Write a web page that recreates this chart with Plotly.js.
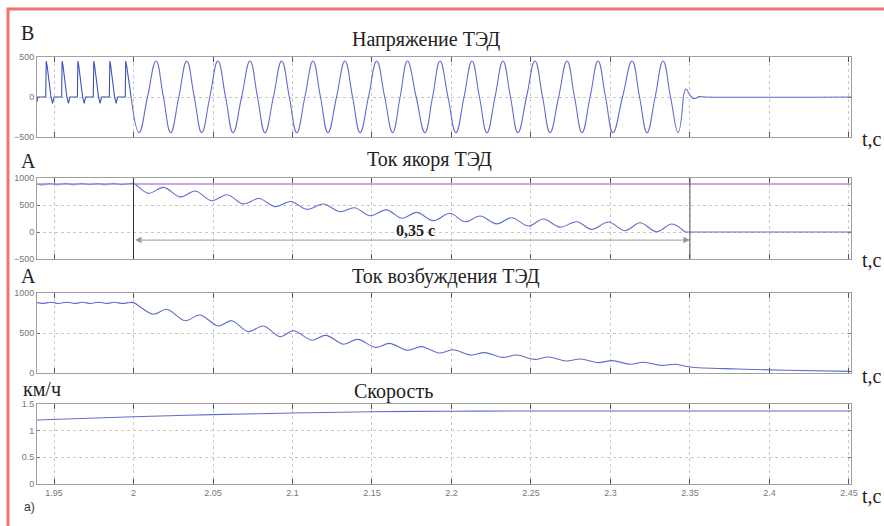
<!DOCTYPE html>
<html>
<head>
<meta charset="utf-8">
<script src="https://cdn.plot.ly/plotly-3.0.1.min.js"></script>
<style>html,body{margin:0;padding:0;background:#fff;}#chart{width:884px;height:526px;}</style>
</head>
<body>
<div id="chart"></div>
<script>
// ---------- DATA ----------
// Panel 1: voltage (В) — rectifier pulses before t = 2.0 s
const voltPulseT = [1.9393,1.9398,1.9405,1.9448,1.9451,1.9456,1.9481,1.9491,1.9500,1.9548,1.9551,1.9556,1.9581,1.9591,1.9600,
  1.9647,1.9650,1.9655,1.9680,1.9690,1.9699,1.9747,1.9750,1.9755,1.9780,1.9790,1.9799,1.9848,1.9851,1.9856,1.9881,1.9891,1.9900,
  1.9948,1.9951,1.9956,1.9985];
const voltPulseV = [-60,0,0,0,450,400,0,-80,0,0,450,400,0,-80,0,
  0,450,400,0,-80,0,0,450,400,0,-80,0,0,450,400,0,-80,0,
  0,450,400,0];
// Panel 1: voltage — inverter sine after t = 2.0 s (extrema and zero crossings)
const voltSineT = [1.9985,2.0035,2.0088,2.0142,2.0188,2.0234,2.0285,2.0335,2.0382,2.0429,2.0480,2.0531,2.0579,2.0626,2.0680,2.0733,
  2.0780,2.0827,2.0880,2.0932,2.0980,2.1027,2.1078,2.1129,2.1176,2.1223,2.1277,2.1330,2.1378,2.1425,2.1478,2.1530,
  2.1580,2.1630,2.1677,2.1723,2.1778,2.1833,2.1881,2.1928,2.1978,2.2028,2.2079,2.2129,2.2176,2.2223,2.2274,2.2324,
  2.2371,2.2418,2.2472,2.2525,2.2573,2.2620,2.2674,2.2727,2.2774,2.2821,2.2872,2.2922,2.2969,2.3016,2.3076,2.3136,
  2.3183,2.3230,2.3281,2.3331,2.3378,2.3425,2.3458];
const voltSineV = [0,-445,0,450,0,-445,0,450,0,-445,0,450,0,-445,0,450,
  0,-445,0,450,0,-445,0,450,0,-445,0,450,0,-445,0,450,
  0,-445,0,450,0,-445,0,450,0,-445,0,450,0,-445,0,450,
  0,-445,0,450,0,-445,0,450,0,-445,0,450,0,-445,0,450,
  0,-445,0,450,0,-445,0];
const voltTailT = [2.3458,2.3475,2.3500,2.3522,2.3560,2.3600,2.4513];
const voltTailV = [0,100,25,-20,5,0,0];

// Panel 2: armature current (А)
const armT = [1.9393,1.9425,1.9475,1.9525,1.9575,1.9625,1.9675,1.9725,1.9775,1.9825,1.9875,1.9925,1.9975,2.0000,
  2.0093,2.0190,2.0293,2.0390,2.0490,2.0590,2.0690,2.0790,2.0890,2.0990,2.1090,2.1194,2.1300,2.1390,2.1490,2.1590,
  2.1690,2.1781,2.1886,2.1991,2.2085,2.2180,2.2285,2.2379,2.2484,2.2578,2.2683,2.2788,2.2882,2.2987,2.3092,2.3186,
  2.3291,2.3386,2.3469];
const armV = [885,872,898,876,900,874,901,876,899,875,901,877,898,900,
  716,827,650,760,580,690,520,620,470,565,420,518,376,450,300,410,
  254,364,210,346,190,296,150,265,111,241,90,191,49,185,24,170,
  5,148,0];
const armTailT = [2.3469,2.4513];
const armTailV = [0,0];
const armRefT = [1.9393,2.4513];
const armRefV = [890,890];

// Panel 3: excitation current (А)
const excT = [1.9393,1.9430,1.9480,1.9530,1.9580,1.9630,1.9680,1.9730,1.9780,1.9830,1.9880,1.9930,1.9980,2.0000,
  2.0125,2.0209,2.0324,2.0418,2.0533,2.0618,2.0722,2.0817,2.0922,2.1006,2.1122,2.1210,2.1322,2.1410,2.1522,2.1610,
  2.1722,2.1810,2.1922,2.2010,2.2122,2.2210,2.2322,2.2410,2.2522,2.2610,2.2722,2.2810,2.2922,2.3010,2.3122,2.3210,
  2.3322,2.3410,2.3500,2.3800,2.4100,2.4513];
const excV = [880,870,884,869,885,870,884,869,885,870,884,870,882,880,
  734,796,654,725,588,654,517,588,454,529,410,470,360,420,320,370,
  285,330,250,290,225,255,195,225,170,200,150,175,130,155,110,135,
  95,110,75,50,35,20];

// Panel 4: speed (км/ч)
const speedT = [1.9393,2.0000,2.0500,2.1000,2.1500,2.2000,2.2500,2.4513];
const speedV = [1.20,1.26,1.30,1.33,1.355,1.365,1.37,1.37];

// Axis ticks / labels
const xRange = [1.9393,2.4513];
const xTick0 = 1.95, xDtick = 0.05;
const panelTitles = ['Напряжение ТЭД','Ток якоря ТЭД','Ток возбуждения ТЭД','Скорость'];
const unitLabels = ['В','А','А','км/ч'];
const timeLabel = 't,c';
const intervalStart = 2.0, intervalEnd = 2.35;
const intervalText = '0,35 с';

// ---------- LAYOUT ----------
const W = 884, H = 526, ML = 37, MR = 33;
const PW = W - ML - MR;
const px = x => (x - ML) / PW;
const py = y => 1 - y / H;
const dom = (top, bot) => [py(bot), py(top)];

const blue = '#5f6ecb';
const serif = 'Liberation Serif, Times New Roman, serif';
const sans = 'Liberation Sans, Arial, sans-serif';

function xa(anchor, labels) {
  return {
    anchor: anchor, range: xRange, tick0: xTick0, dtick: xDtick,
    showgrid: true, gridcolor: '#c8c8c8', griddash: 'dot', gridwidth: 1,
    zeroline: false, showline: true, linecolor: '#a0a0a0', linewidth: 1, mirror: 'ticks',
    ticks: 'inside', ticklen: 5, tickcolor: '#555', tickwidth: 1,
    showticklabels: labels, tickfont: {family: sans, size: 9, color: '#777'}
  };
}
function ya(anchor, domain, range, dtick) {
  return {
    anchor: anchor, domain: domain, range: range, dtick: dtick,
    showgrid: true, gridcolor: '#c8c8c8', griddash: 'dot', gridwidth: 1,
    zeroline: false, showline: true, linecolor: '#a0a0a0', linewidth: 1, mirror: 'ticks',
    ticks: 'inside', ticklen: 3, tickcolor: '#777',
    tickfont: {family: sans, size: 9, color: '#777'}
  };
}

const traces = [
  {x: voltPulseT, y: voltPulseV, xaxis: 'x', yaxis: 'y', mode: 'lines', line: {color: '#3f4fbc', width: 1.1}},
  {x: voltSineT, y: voltSineV, xaxis: 'x', yaxis: 'y', mode: 'lines', line: {color: blue, width: 1.1, shape: 'spline', smoothing: 1.25}},
  {x: voltTailT, y: voltTailV, xaxis: 'x', yaxis: 'y', mode: 'lines', line: {color: blue, width: 1.1, shape: 'spline'}},
  {x: armT, y: armV, xaxis: 'x2', yaxis: 'y2', mode: 'lines', line: {color: blue, width: 1.1, shape: 'spline'}},
  {x: armTailT, y: armTailV, xaxis: 'x2', yaxis: 'y2', mode: 'lines', line: {color: blue, width: 1.1}},
  {x: armRefT, y: armRefV, xaxis: 'x2', yaxis: 'y2', mode: 'lines', line: {color: '#b48cd6', width: 1.4}},
  {x: excT, y: excV, xaxis: 'x3', yaxis: 'y3', mode: 'lines', line: {color: blue, width: 1.1, shape: 'spline'}},
  {x: speedT, y: speedV, xaxis: 'x4', yaxis: 'y4', mode: 'lines', line: {color: blue, width: 1.1, shape: 'spline'}}
];

const txt = (t, x, y, opts) => Object.assign({
  text: t, xref: 'paper', yref: 'paper', x: px(x), y: py(y), showarrow: false,
  xanchor: 'center', yanchor: 'middle', font: {family: serif, size: 20, color: '#222'}
}, opts || {});

const annotations = [
  txt(unitLabels[0], 19, 33, {xanchor: 'left'}),
  txt(panelTitles[0], 426, 40),
  txt(unitLabels[1], 19, 161, {xanchor: 'left'}),
  txt(panelTitles[1], 429, 160),
  txt(unitLabels[2], 19, 276, {xanchor: 'left'}),
  txt(panelTitles[2], 446, 276),
  txt(unitLabels[3], 21, 389, {xanchor: 'left'}),
  txt(panelTitles[3], 393, 391),
  txt(timeLabel, 860, 139, {xanchor: 'left'}),
  txt(timeLabel, 860, 260, {xanchor: 'left'}),
  txt(timeLabel, 860, 376, {xanchor: 'left'}),
  txt(timeLabel, 860, 496, {xanchor: 'left'}),
  txt('а)', 22, 507, {xanchor: 'left', font: {family: sans, size: 12, color: '#333'}}),
  txt('<b>' + intervalText + '</b>', 415, 230, {font: {family: serif, size: 16, color: '#222'}}),
  {xref: 'x2', yref: 'y2', x: intervalEnd, y: -150, axref: 'x2', ayref: 'y2', ax: intervalStart, ay: -150,
   text: '', showarrow: true, arrowside: 'end+start', arrowhead: 2, arrowsize: 1.3, arrowwidth: 1, arrowcolor: '#999'}
];

const shapes = [
  {type: 'line', xref: 'x2', yref: 'y2 domain', x0: intervalStart, x1: intervalStart, y0: 0, y1: 1, line: {color: '#333', width: 1}},
  {type: 'line', xref: 'x2', yref: 'y2 domain', x0: intervalEnd, x1: intervalEnd, y0: 0, y1: 1, line: {color: '#555', width: 1}},
  {type: 'rect', xref: 'paper', yref: 'paper', x0: px(8), x1: px(905), y0: py(545), y1: py(9),
   line: {color: '#f07272', width: 3}, fillcolor: 'rgba(0,0,0,0)'}
];

const layout = {
  width: W, height: H, margin: {l: ML, r: MR, t: 0, b: 0, pad: 0},
  paper_bgcolor: '#fff', plot_bgcolor: '#fff', showlegend: false,
  xaxis: xa('y', false), yaxis: ya('x', dom(57, 137), [-500, 500], 500),
  xaxis2: xa('y2', false), yaxis2: ya('x2', dom(178, 259), [-500, 1000], 500),
  xaxis3: xa('y3', false), yaxis3: ya('x3', dom(293, 373), [0, 1000], 500),
  xaxis4: xa('y4', true), yaxis4: ya('x4', dom(404, 484), [0, 1.5], 0.5),
  annotations: annotations, shapes: shapes
};

Plotly.newPlot('chart', traces, layout, {displayModeBar: false, staticPlot: true});
</script>
</body>
</html>
